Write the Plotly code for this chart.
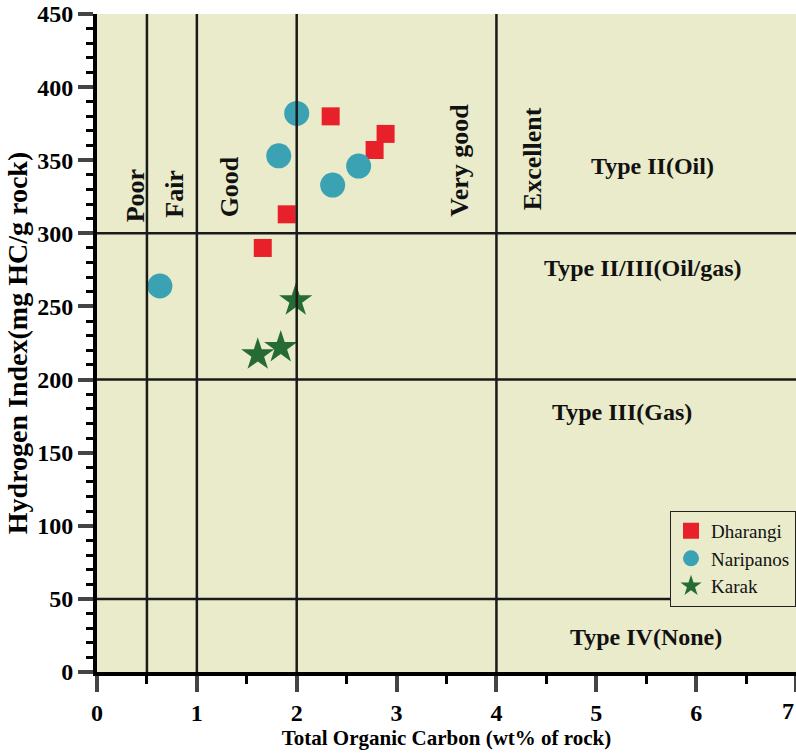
import plotly.graph_objects as go

# ---- data ----
dharangi_toc = [2.34, 2.89, 2.78, 1.90, 1.66]
dharangi_hi = [380, 368, 357, 313, 290]
naripanos_toc = [2.00, 1.82, 2.36, 2.62, 0.63]
naripanos_hi = [382, 353, 333, 346, 264]
karak_toc = [1.61, 1.84, 1.99]
karak_hi = [217, 222, 254]

toc_bounds = [0.5, 1, 2, 4]
hi_bounds = [300, 200, 50]

quality_labels = ["Poor", "Fair", "Good", "Very good", "Excellent"]
quality_x = [0.38, 0.78, 1.33, 3.63, 4.36]
quality_y = [326, 327, 332, 350, 351]

type_labels = ["Type II(Oil)", "Type II/III(Oil/gas)", "Type III(Gas)", "Type IV(None)"]
type_x = [5.56, 5.47, 5.26, 5.5]
type_y = [346, 276, 178, 24]

x_ticks = [0, 1, 2, 3, 4, 5, 6, 7]
x_ticktext = ["0", "1", "2", "3", "4", "5", "6", ""]   # last label placed as an annotation so it stays inside the page
y_ticks = [0, 50, 100, 150, 200, 250, 300, 350, 400, 450]

BG = "#E9EBCA"
FONT = "Liberation Serif"

fig = go.Figure()
fig.add_trace(go.Scatter(x=dharangi_toc, y=dharangi_hi, mode="markers", name="Dharangi",
                         marker=dict(symbol="square", size=18, color="#E8202A")))
fig.add_trace(go.Scatter(x=naripanos_toc, y=naripanos_hi, mode="markers", name="Naripanos",
                         marker=dict(symbol="circle", size=25, color="#3BA2B4")))
fig.add_trace(go.Scatter(x=karak_toc, y=karak_hi, mode="markers", name="Karak",
                         marker=dict(symbol="star", size=25, color="#266B33")))

shapes = []
for xv in toc_bounds:
    shapes.append(dict(type="line", xref="x", yref="y", x0=xv, x1=xv, y0=0, y1=450,
                       line=dict(color="#1a1a1a", width=2.5), layer="above"))
for yv in hi_bounds:
    shapes.append(dict(type="line", xref="x", yref="y", x0=0, x1=7, y0=yv, y1=yv,
                       line=dict(color="#1a1a1a", width=2.5), layer="above"))

annotations = []
for t, xv, yv in zip(quality_labels, quality_x, quality_y):
    annotations.append(dict(x=xv, y=yv, xref="x", yref="y", text="<b>%s</b>" % t, textangle=-90,
                            showarrow=False, font=dict(family=FONT, size=26, color="#111")))
for t, xv, yv in zip(type_labels, type_x, type_y):
    annotations.append(dict(x=xv, y=yv, xref="x", yref="y", text="<b>%s</b>" % t,
                            showarrow=False, font=dict(family=FONT, size=24, color="#111")))
annotations.append(dict(x=x_ticks[-1], y=0, xref="x", yref="paper", text="<b>%d</b>" % x_ticks[-1],
                        xanchor="right", yanchor="top", yshift=-24, showarrow=False,
                        font=dict(family=FONT, size=24, color="black")))

fig.update_layout(
    width=796, height=755,
    margin=dict(l=97, r=0, t=14, b=83),
    paper_bgcolor="white", plot_bgcolor=BG,
    font=dict(family=FONT, color="black"),
    shapes=shapes, annotations=annotations,
    showlegend=True,
    legend=dict(x=1, y=0.245, xanchor="right", yanchor="top", bgcolor=BG,
                bordercolor="#222", borderwidth=1, font=dict(family=FONT, size=19, color="#111"),
                tracegroupgap=0, itemwidth=30),
)
fig.update_xaxes(range=[0, 7], tickvals=x_ticks, ticktext=x_ticktext, ticks="outside", ticklen=16, tickwidth=4,
                 showline=True, linewidth=4, linecolor="black", showgrid=False, zeroline=False,
                 automargin=False,
                 tickfont=dict(family=FONT, size=24, color="black", weight="bold"),
                 minor=dict(dtick=0.5, ticks="outside", ticklen=8, tickwidth=3, tickcolor="black", showgrid=False),
                 title=dict(text="<b>Total Organic Carbon (wt% of rock)</b>", font=dict(family=FONT, size=21), standoff=6))
fig.update_yaxes(range=[0, 450], tickvals=y_ticks, ticks="outside", ticklen=15, tickwidth=4,
                 showline=True, linewidth=4, linecolor="black", showgrid=False, zeroline=False, mirror=True,
                 automargin=False,
                 tickfont=dict(family=FONT, size=24, color="black", weight="bold"),
                 minor=dict(dtick=10, ticks="outside", ticklen=7, tickwidth=3, tickcolor="black", showgrid=False),
                 title=dict(text="<b>Hydrogen Index(mg HC/g rock)</b>", font=dict(family=FONT, size=28), standoff=2))

fig.write_html("out.html", config={"displayModeBar": False},
               post_script="document.body.style.margin='0';document.documentElement.style.overflow='hidden';")
